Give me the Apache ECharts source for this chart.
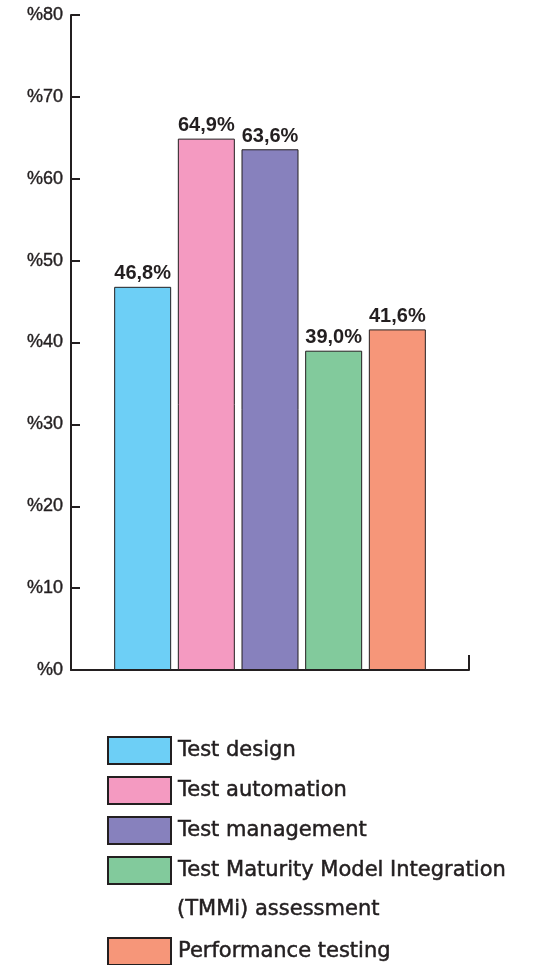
<!DOCTYPE html>
<html>
<head>
<meta charset="utf-8">
<style>
  html, body { margin: 0; padding: 0; background: #ffffff; }
  #chart { width: 538px; height: 965px; }
</style>
<script src="https://cdn.jsdelivr.net/npm/echarts@6/dist/echarts.min.js"></script>
</head>
<body>
<div id="chart"></div>
<script>
// ---- data ----
const categories = ['All'];
const seriesNames = [
  'Test design',
  'Test automation',
  'Test management',
  'Test Maturity Model Integration',
  'Performance testing'
];
const seriesValues = [46.8, 64.9, 63.6, 39.0, 41.6];
const seriesColors = ['#6dcff6', '#f49ac1', '#8781bd', '#82ca9c', '#f69679'];
const yTicks = { min: 0, max: 80, interval: 10 };
const legendSecondLine = '(TMMi) assessment';

const ink = '#231f20';

const chart = echarts.init(document.getElementById('chart'), null, { renderer: 'canvas' });

const series = seriesNames.map((name, i) => ({
  name: name,
  type: 'bar',
  data: [seriesValues[i]],
  barWidth: 57,
  barGap: '11.7%',
  itemStyle: { color: seriesColors[i], borderColor: ink, borderWidth: 1 },
  label: {
    show: true,
    position: 'top',
    distance: 3,
    color: ink,
    fontFamily: '"Liberation Sans", Arial, sans-serif',
    fontWeight: 'bold',
    fontSize: 20,
    formatter: p => p.value.toFixed(1).replace('.', ',') + '%'
  },
  emphasis: { disabled: true }
}));

const legendText = {
  color: ink,
  fontFamily: '"DejaVu Sans", sans-serif',
  fontSize: 21,
  textBorderColor: ink,
  textBorderWidth: 0.5,
  padding: [0, 0, 0, 2]
};

chart.setOption({
  animation: false,
  backgroundColor: '#ffffff',
  grid: { left: 71, right: 69, top: 15, bottom: 295, containLabel: false },
  xAxis: {
    type: 'category',
    data: categories,
    axisLine: { show: true, lineStyle: { color: ink, width: 2 } },
    axisTick: { show: true, inside: true, length: 15, lineStyle: { color: ink, width: 2 } },
    axisLabel: { show: false },
    splitLine: { show: false }
  },
  yAxis: {
    type: 'value',
    min: yTicks.min,
    max: yTicks.max,
    interval: yTicks.interval,
    axisLine: { show: true, lineStyle: { color: ink, width: 2 } },
    axisTick: { show: true, inside: true, length: 9, lineStyle: { color: ink, width: 2 } },
    axisLabel: {
      color: ink,
      fontFamily: '"Liberation Sans", Arial, sans-serif',
      fontSize: 18,
      margin: 8,
      textBorderColor: ink,
      textBorderWidth: 0.4,
      formatter: v => '%' + v
    },
    splitLine: { show: false }
  },
  legend: [
    {
      orient: 'vertical',
      left: 107,
      top: 736,
      icon: 'rect',
      itemWidth: 63,
      itemHeight: 27,
      itemGap: 11,
      padding: 0,
      selectedMode: false,
      data: seriesNames.slice(0, 4),
      textStyle: legendText
    },
    {
      orient: 'vertical',
      left: 107,
      top: 937,
      icon: 'rect',
      itemWidth: 63,
      itemHeight: 27,
      padding: 0,
      selectedMode: false,
      data: seriesNames.slice(4),
      textStyle: legendText
    }
  ],
  graphic: [
    {
      type: 'text',
      x: 177,
      y: 910,
      style: {
        text: legendSecondLine,
        fill: ink,
        stroke: ink,
        lineWidth: 0.5,
        font: '21px "DejaVu Sans", sans-serif',
        verticalAlign: 'middle'
      }
    }
  ],
  series: series
});
</script>
</body>
</html>
